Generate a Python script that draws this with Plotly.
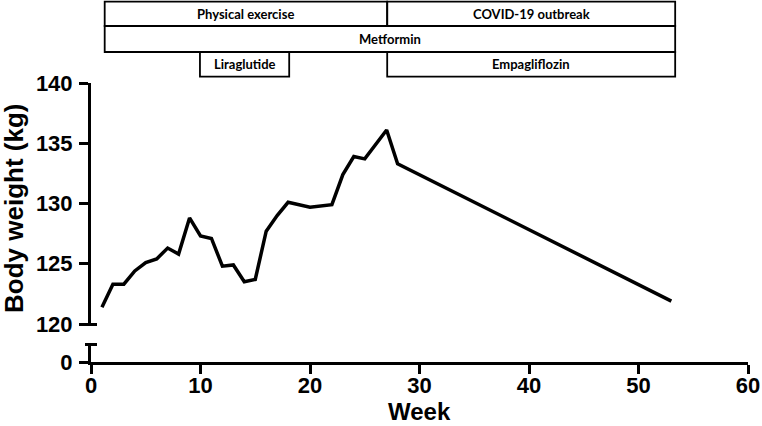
import plotly.graph_objects as go

# ---- data ----
weeks = [1, 2, 3, 4, 5, 6, 7, 8, 9, 10, 11, 12, 13, 14, 15, 16, 17, 18,
         20, 22, 23, 24, 25, 27, 28, 53]
body_weight = [121.4, 123.3, 123.3, 124.4, 125.1, 125.4, 126.3, 125.8, 128.8,
               127.3, 127.1, 124.8, 124.9, 123.5, 123.7, 127.7, 129.0, 130.1,
               129.7, 129.9, 132.4, 133.9, 133.7, 136.1, 133.3, 121.9]

x_ticks = [0, 10, 20, 30, 40, 50, 60]
y_ticks_upper = [120, 125, 130, 135, 140]
y_ticks_lower = [0]

# treatment / period bars: (label, start week, end week, row)
phase_labels = ["Physical exercise", "COVID-19 outbreak", "Metformin",
                "Liraglutide", "Empagliflozin"]
phase_start = [1.25, 27.05, 1.25, 9.95, 27.05]
phase_end = [27.05, 53.35, 53.35, 18.1, 53.35]
phase_row = [0, 0, 1, 2, 2]

# ---- layout geometry (pixels) ----
W, H = 762, 426
ML, MR, MT, MB = 91, 14, 83, 64
PW = W - ML - MR
PH = H - MT - MB


def py(px_y):
    return (H - MB - px_y) / PH


def pxx(px_x):
    return (px_x - ML) / PW


AX = dict(family="Liberation Sans, Arial, sans-serif", size=22, color="black", weight="bold")

fig = go.Figure()
fig.add_trace(go.Scatter(x=weeks, y=body_weight, mode="lines",
                         line=dict(color="black", width=3.5), xaxis="x", yaxis="y",
                         showlegend=False, hoverinfo="skip"))
# empty helper trace so the lower (broken) axis segment is drawn
fig.add_trace(go.Scatter(x=[], y=[], mode="lines", xaxis="x", yaxis="y2",
                         showlegend=False, hoverinfo="skip"))

upper_bottom = py(324)
lower_top = py(344.5)

fig.update_layout(
    width=W, height=H,
    margin=dict(l=ML, r=MR, t=MT, b=MB, autoexpand=False),
    paper_bgcolor="white", plot_bgcolor="white",
    showlegend=False,
    xaxis=dict(range=[0, 60], tickvals=x_ticks, showline=True, linewidth=3,
               linecolor="black", ticks="outside", ticklen=9, tickwidth=3,
               tickcolor="black", showgrid=False, zeroline=False, anchor="y2",
               tickfont=AX, ticklabelstandoff=-7, automargin=False),
    yaxis=dict(domain=[upper_bottom, 1], range=[120, 140], tickvals=y_ticks_upper,
               showline=True, linewidth=3, linecolor="black", ticks="outside",
               ticklen=9, tickwidth=3, tickcolor="black", showgrid=False,
               zeroline=False, anchor="x", tickfont=AX, ticklabelstandoff=2,
               automargin=False),
    yaxis2=dict(domain=[0, lower_top], range=[0, 1], tickvals=y_ticks_lower,
                showline=True, linewidth=3, linecolor="black", ticks="outside",
                ticklen=9, tickwidth=3, tickcolor="black", showgrid=False,
                zeroline=False, anchor="x", tickfont=AX, ticklabelstandoff=2,
                automargin=False),
)

shapes = []
# axis break caps
for yy in [py(324.5), py(344.5)]:
    shapes.append(dict(type="line", xref="paper", yref="paper",
                       x0=pxx(85), x1=pxx(97), y0=yy, y1=yy,
                       line=dict(color="black", width=3)))

# phase boxes
row_edges = [1.7, 26, 52, 76.7]
annotations = []
for lab, s, e, r in zip(phase_labels, phase_start, phase_end, phase_row):
    y0 = py(row_edges[r + 1])
    y1 = py(row_edges[r])
    shapes.append(dict(type="rect", xref="x", yref="paper", x0=s, x1=e,
                       y0=y0, y1=y1, line=dict(color="black", width=1.8),
                       fillcolor="rgba(0,0,0,0)"))
    annotations.append(dict(x=(s + e) / 2, y=(y0 + y1) / 2, xref="x", yref="paper",
                            text=lab, showarrow=False, xanchor="center",
                            yanchor="middle",
                            font=dict(family="Lato, sans-serif", size=13,
                                      color="black", weight="bold")))

# axis titles
annotations.append(dict(x=pxx(14), y=py(209), xref="paper", yref="paper",
                        text="Body weight (kg)", textangle=-90, showarrow=False,
                        xanchor="center", yanchor="middle",
                        font=dict(family="Liberation Sans, Arial, sans-serif",
                                  size=26, color="black", weight="bold")))
annotations.append(dict(x=pxx(419), y=py(426), xref="paper", yref="paper",
                        text="Week", showarrow=False, xanchor="center",
                        yanchor="bottom", borderpad=0,
                        font=dict(family="Liberation Sans, Arial, sans-serif",
                                  size=24, color="black", weight="bold")))

fig.update_layout(shapes=shapes, annotations=annotations)
fig.write_html("out.html", config={"displayModeBar": False},
               post_script="document.body.style.margin='0';document.body.style.padding='0';")
